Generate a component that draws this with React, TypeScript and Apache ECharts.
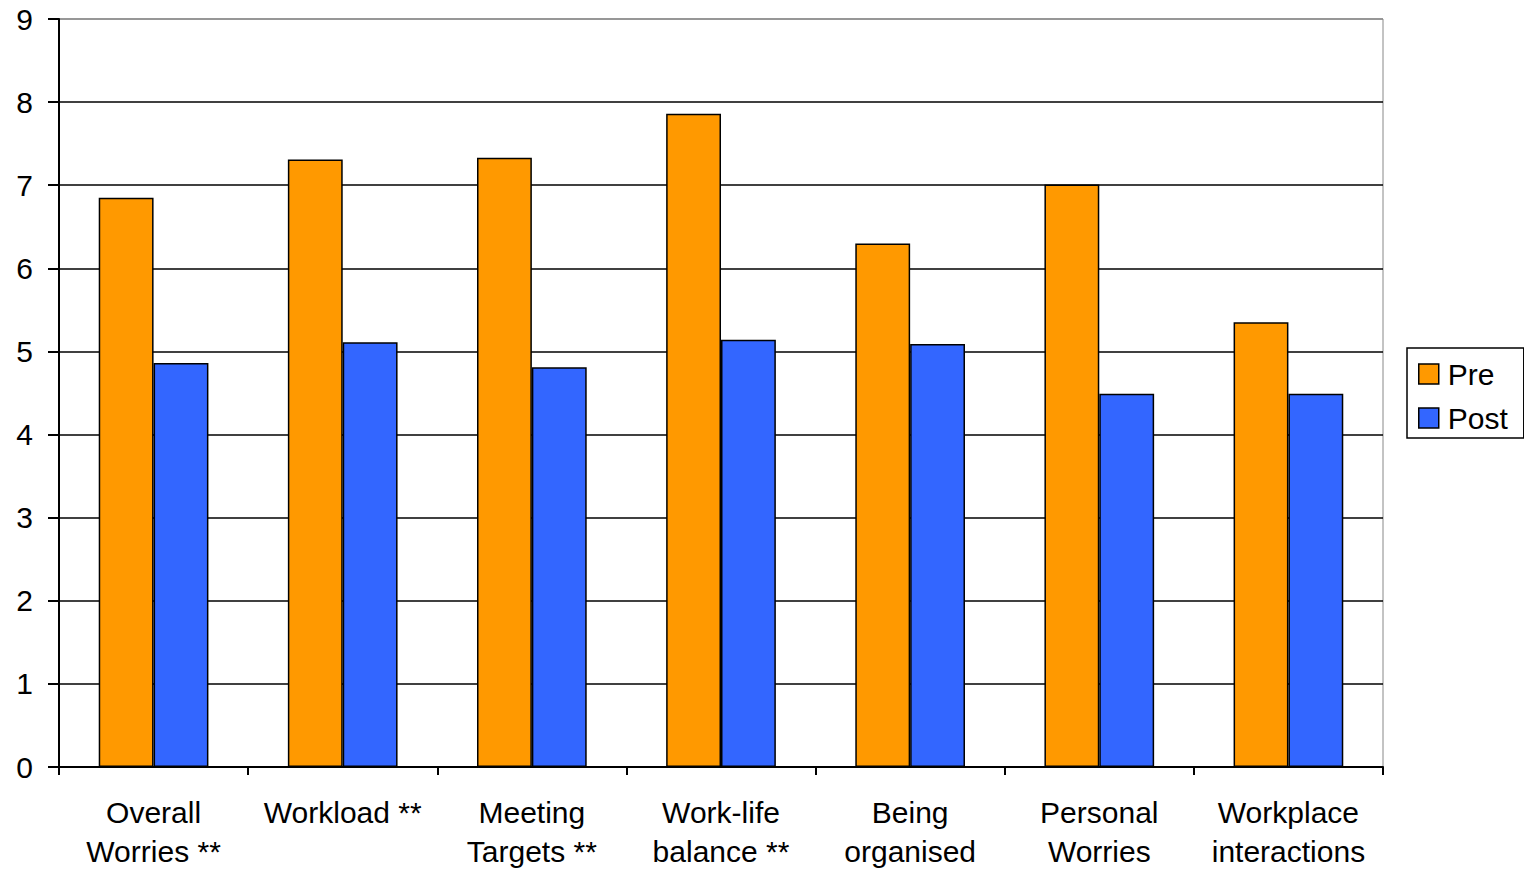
import React, { useEffect, useRef } from "react";
import * as echarts from "echarts";

const categories = [
  "Overall\nWorries **",
  "Workload **",
  "Meeting\nTargets **",
  "Work-life\nbalance **",
  "Being\norganised",
  "Personal\nWorries",
  "Workplace\ninteractions",
];
const preValues = [6.85, 7.31, 7.33, 7.86, 6.3, 7.01, 5.35];
const postValues = [4.86, 5.11, 4.81, 5.14, 5.09, 4.49, 4.49];

const FONT = "'Liberation Sans', Arial, sans-serif";

export default function App() {
  const ref = useRef<HTMLDivElement>(null);
  useEffect(() => {
    if (!ref.current) return;
    const chart = echarts.init(ref.current, undefined, { renderer: "svg" });
    chart.setOption({
      animation: false,
      backgroundColor: "#fff",
      textStyle: { fontFamily: FONT },
      grid: {
        left: 59,
        top: 19,
        right: 141,
        bottom: 102,
        show: true,
        borderColor: "#888",
        borderWidth: 1,
      },
      legend: {
        orient: "vertical",
        left: 1407,
        top: 348,
        padding: [11, 16, 5, 11],
        itemGap: 14,
        itemWidth: 20,
        itemHeight: 20,
        icon: "rect",
        borderColor: "#000",
        borderWidth: 1.5,
        textStyle: { fontSize: 30, color: "#000", fontFamily: FONT, padding: [0, 0, 0, 4] },
        itemStyle: { borderColor: "#000", borderWidth: 1.5 },
        data: ["Pre", "Post"],
      },
      xAxis: {
        type: "category",
        data: categories,
        axisLine: { lineStyle: { color: "#000", width: 2 } },
        axisTick: { show: true, length: 8, lineStyle: { color: "#000", width: 2 } },
        axisLabel: {
          fontSize: 30,
          color: "#000",
          lineHeight: 39,
          margin: 26,
          interval: 0,
          fontFamily: FONT,
        },
      },
      yAxis: {
        type: "value",
        min: 0,
        max: 9,
        interval: 1,
        axisLine: { show: true, lineStyle: { color: "#000", width: 2 } },
        axisTick: { show: true, length: 11, lineStyle: { color: "#000", width: 2 } },
        axisLabel: { fontSize: 30, color: "#000", margin: 26, fontFamily: FONT },
        splitLine: {
          lineStyle: {
            color: ["#000", "#000", "#000", "#000", "#000", "#000", "#000", "#000", "#000", "#888"],
            width: 1.5,
          },
        },
      },
      series: [
        {
          name: "Pre",
          type: "bar",
          data: preValues,
          barGap: "0%",
          barCategoryGap: "42%",
          itemStyle: { color: "#FF9900", borderColor: "#000", borderWidth: 1.5 },
        },
        {
          name: "Post",
          type: "bar",
          data: postValues,
          barGap: "0%",
          barCategoryGap: "42%",
          itemStyle: { color: "#3366FF", borderColor: "#000", borderWidth: 1.5 },
        },
      ],
    });
    return () => chart.dispose();
  }, []);
  return (
    <div
      ref={ref}
      style={{ position: "fixed", left: 0, top: 0, width: 1524, height: 871 }}
    />
  );
}
